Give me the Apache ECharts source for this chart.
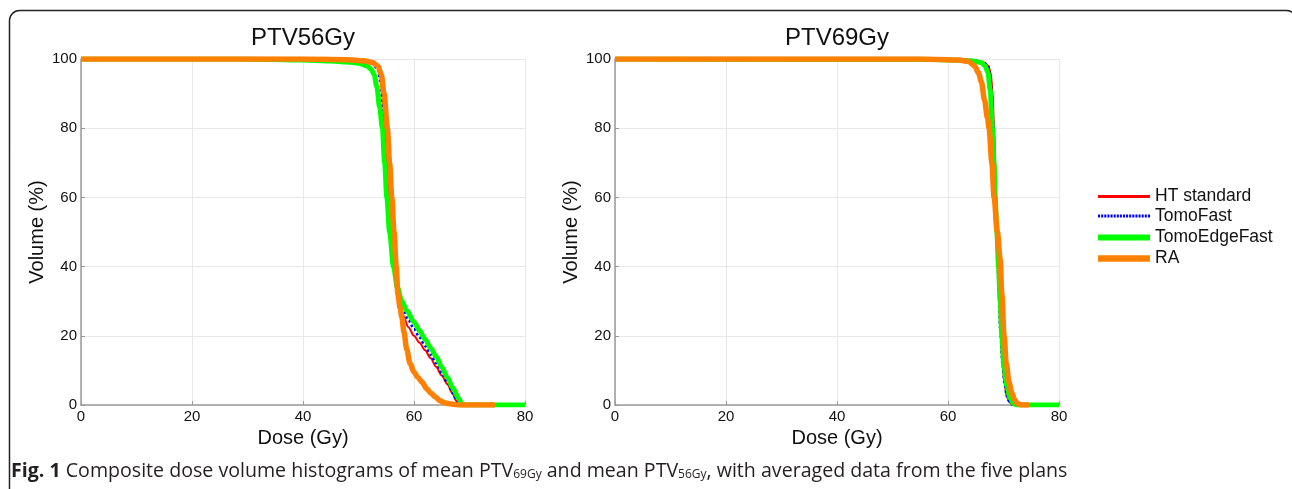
<!DOCTYPE html>
<html>
<head>
<meta charset="utf-8">
<script src="https://cdn.jsdelivr.net/npm/echarts@6/dist/echarts.min.js"></script>
<style>
html,body{margin:0;padding:0;background:#fff;}
#c{width:1292px;height:489px;}
</style>
</head>
<body>
<div id="c"></div>
<script>
const seriesNames = ['HT standard', 'TomoFast', 'TomoEdgeFast', 'RA'];
const chartTitles = ['PTV56Gy', 'PTV69Gy'];
const xTicks = [0, 20, 40, 60, 80];
const yTicks = [0, 20, 40, 60, 80, 100];

// PTV56Gy: [dose (Gy), volume (%)]
const ptv56_HT = [[0,100],[40,100],[48,99.8],[51,99.5],[52.5,99],[53.5,98],[54,95],[54.4,88],[54.8,80],[55.2,70],[55.6,58],[56,48],[56.4,40],[56.8,33],[57.3,29],[58,26],[59,22.5],[60,20],[61,18],[62,15.8],[63,13.5],[64,11],[65,8.5],[66,6],[67,3.2],[67.6,1.2],[68.2,0.2],[69,0],[74,0]];
const ptv56_TomoFast = [[0,100],[40,100],[48,99.7],[51,99.3],[52.5,98.6],[53.5,97],[54,93],[54.4,86],[54.8,78],[55.2,68],[55.6,57],[56,47],[56.4,40],[56.8,34],[57.3,30],[58,27.5],[59,24.5],[60,22],[61,19.5],[62,17],[63,14.5],[64,12],[65,9.2],[66,6.5],[67,3.5],[67.8,1],[68.4,0.1],[69,0],[74,0]];
const ptv56_TomoEdgeFast = [[0,100],[30,100],[40,99.7],[45,99.4],[48,99.1],[50,98.8],[51.5,98],[52.3,97],[52.8,95.5],[53.3,92],[53.8,86],[54.3,80],[54.7,70],[55.1,60],[55.6,50],[56.3,40],[57,34],[57.8,30],[58.7,27.3],[60,24],[61,21.5],[62,19],[63,16.5],[64,14],[65,11],[66,8],[67,5],[68,2],[68.6,0.3],[69.2,0],[80,0]];
const ptv56_RA = [[0,100],[40,100],[48,99.8],[51,99.5],[52.5,99],[53.5,98],[54.1,95.5],[54.6,90],[55.2,80],[55.6,70],[56,60],[56.4,50],[56.8,40],[57.1,32],[57.5,28],[57.8,25.5],[58.2,21],[58.7,16],[59.3,12],[60,9.5],[60.7,8],[61.4,6.7],[62.3,4.7],[63,3.5],[63.8,2.4],[64.7,1.2],[65.6,0.6],[67,0.2],[68,0],[74.6,0]];

// PTV69Gy
const ptv69_HT = [[0,100],[55,100],[62,99.9],[65,99.6],[66.5,99],[67.3,98],[67.7,96],[68,91],[68.3,80],[68.6,65],[68.9,50],[69.2,35],[69.5,22],[69.8,12],[70.2,6],[70.6,2.5],[71,1],[71.5,0.2],[72,0],[74,0]];
const ptv69_TomoFast = [[0,100],[55,100],[62,99.9],[65,99.6],[66.5,99],[67.2,98],[67.6,95],[67.9,90],[68.2,80],[68.5,65],[68.8,50],[69.1,35],[69.4,22],[69.8,12],[70.2,6],[70.6,2.5],[71,1],[71.5,0.2],[72,0],[74,0]];
const ptv69_TomoEdgeFast = [[0,100],[55,99.9],[60,99.8],[64,99.5],[66,99],[66.7,98],[67.2,96],[67.6,91],[68,80],[68.3,70],[68.5,60],[68.8,50],[69.1,40],[69.4,30],[69.7,20],[70.1,11],[70.6,5.5],[71.2,2],[71.8,0.4],[72.4,0],[80,0]];
const ptv69_RA = [[0,100],[55,100],[62,99.7],[63.7,99.3],[64.8,98],[65.5,96],[66,93.5],[66.6,88],[67.1,83],[67.4,80],[67.9,70],[68.3,60],[68.9,50],[69.4,42],[69.7,32],[70.1,20],[70.5,12],[71,6.5],[71.5,3.5],[72,1.5],[72.5,0.4],[73.2,0],[74.6,0]];

const dataSets = [
  [ptv56_HT, ptv56_TomoFast, ptv56_TomoEdgeFast, ptv56_RA],
  [ptv69_HT, ptv69_TomoFast, ptv69_TomoEdgeFast, ptv69_RA]
];

const FONT = 'Arial, "Liberation Sans", sans-serif';
const CAP_FONT = '"Open Sans", "Noto Sans", sans-serif';
const styles = [
  {color: '#ff0000', width: 2, type: 'solid', legendH: 3},
  {color: '#0000ff', width: 2.5, type: 'dotted', legendH: 3},
  {color: '#00ff00', width: 5, type: 'solid', legendH: 6},
  {color: '#ff7f00', width: 5.5, type: 'solid', legendH: 6.5}
];
const legendCenters = [195, 214.5, 236, 257];

function dottedIcon(w, h) {
  let p = 'path://M0,0 L0,' + h + ' Z';
  for (let x = 0; x + 2 <= w; x += 3) {
    p += ' M' + x + ',0 L' + (x + 2) + ',0 L' + (x + 2) + ',' + h + ' L' + x + ',' + h + ' Z';
  }
  return p;
}

const grids = [
  {left: 81, right: 767, top: 59, bottom: 84},
  {left: 615, right: 233, top: 59, bottom: 84}
];

function xAxis(i) {
  return {
    type: 'value', gridIndex: i, min: 0, max: 80, interval: 20,
    name: 'Dose (Gy)', nameLocation: 'middle', nameGap: 22,
    nameTextStyle: {fontFamily: FONT, fontSize: 20, color: '#111'},
    axisLine: {show: true, onZero: false, lineStyle: {color: '#9a9a9a', width: 1.5}},
    axisTick: {show: true, inside: true, length: 4, lineStyle: {color: '#9a9a9a'}},
    axisLabel: {fontFamily: FONT, fontSize: 15, color: '#111', margin: 4,
      formatter: v => xTicks.includes(v) ? String(v) : ''},
    splitLine: {show: true, lineStyle: {color: '#e8e8e8', width: 1}}
  };
}
function yAxis(i) {
  return {
    type: 'value', gridIndex: i, min: 0, max: 100, interval: 20,
    name: 'Volume (%)', nameLocation: 'middle', nameGap: 34,
    nameTextStyle: {fontFamily: FONT, fontSize: 20, color: '#111'},
    axisLine: {show: true, onZero: false, lineStyle: {color: '#9a9a9a', width: 1.5}},
    axisTick: {show: true, inside: true, length: 4, lineStyle: {color: '#9a9a9a'}},
    axisLabel: {fontFamily: FONT, fontSize: 15, color: '#111', margin: 4,
      formatter: v => yTicks.includes(v) ? String(v) : ''},
    splitLine: {show: true, lineStyle: {color: '#e8e8e8', width: 1}}
  };
}

const series = [];
for (let g = 0; g < 2; g++) {
  for (let s = 0; s < seriesNames.length; s++) {
    series.push({
      name: seriesNames[s], type: 'line', xAxisIndex: g, yAxisIndex: g,
      data: dataSets[g][s], showSymbol: false, symbol: 'none',
      smooth: 0.3, smoothMonotone: 'x',
      lineStyle: {color: styles[s].color, width: styles[s].width, type: styles[s].type},
      itemStyle: {color: styles[s].color},
      z: 2 + s, animation: false
    });
  }
}

const legends = seriesNames.map((name, s) => {
  const h = styles[s].legendH;
  return {
    data: [{name: name, icon: styles[s].type === 'dotted' ? dottedIcon(52, h) : 'rect',
            itemStyle: {color: styles[s].color, borderWidth: 0}}],
    orient: 'vertical', left: 1098, top: legendCenters[s] - 7.5,
    itemWidth: 52, itemHeight: h, symbolKeepAspect: false, padding: 0,
    textStyle: {fontFamily: FONT, fontSize: 17.5, color: '#111'},
    selectedMode: false
  };
});

const chart = echarts.init(document.getElementById('c'), null, {renderer: 'canvas'});
chart.setOption({
  backgroundColor: '#ffffff',
  animation: false,
  title: [
    {text: chartTitles[0], left: 298, top: 21, textAlign: 'center',
     textStyle: {fontFamily: FONT, fontSize: 24, fontWeight: 'normal', color: '#111'}},
    {text: chartTitles[1], left: 832, top: 21, textAlign: 'center',
     textStyle: {fontFamily: FONT, fontSize: 24, fontWeight: 'normal', color: '#111'}}
  ],
  grid: grids,
  xAxis: [xAxis(0), xAxis(1)],
  yAxis: [yAxis(0), yAxis(1)],
  legend: legends,
  graphic: [
    {type: 'rect', shape: {x: 9.5, y: 10.5, width: 1287, height: 520, r: 10},
     style: {fill: 'none', stroke: '#222', lineWidth: 1.5}, silent: true, z: 0},
    {type: 'text', left: 11, top: 461,
     style: {
       text: '{b|Fig. 1} Composite dose volume histograms of mean PTV{s|69Gy} and mean PTV{s|56Gy}, with averaged data from the five plans',
       fontFamily: CAP_FONT, fontSize: 19.6, fill: '#231f20',
       rich: {
         b: {fontWeight: 'bold', fontFamily: CAP_FONT, fontSize: 19.6, fill: '#231f20'},
         s: {fontSize: 12, fontFamily: CAP_FONT, fill: '#231f20', verticalAlign: 'bottom', padding: [7, 0, 0, 0]}
       }
     }}
  ],
  series: series
});
</script>
</body>
</html>
